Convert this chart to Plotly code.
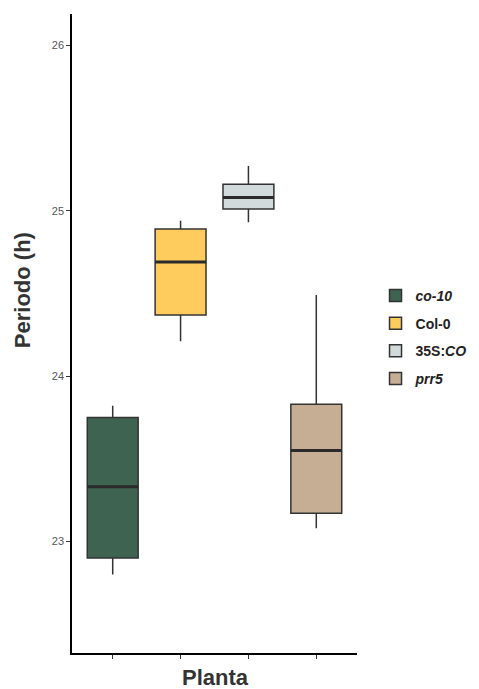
import plotly.graph_objects as go

# Box stats (hours)
plantas = ["co-10", "Col-0", "35S:CO", "prr5"]
etiquetas = ["<b><i>co-10</i></b>", "<b>Col-0</b>", "<b>35S:<i>CO</i></b>", "<b><i>prr5</i></b>"]
minimo = [22.80, 24.21, 24.93, 23.08]
q1 = [22.90, 24.37, 25.01, 23.17]
mediana = [23.33, 24.69, 25.08, 23.55]
q3 = [23.75, 24.89, 25.16, 23.83]
maximo = [23.82, 24.94, 25.27, 24.49]
colores = ["#3F6351", "#FECC5C", "#D3DADB", "#C6AE95"]

ancho = 0.75

fig = go.Figure()

for i, p in enumerate(plantas):
    fig.add_trace(go.Box(
        x=[i], q1=[q1[i]], median=[mediana[i]], q3=[q3[i]],
        lowerfence=[minimo[i]], upperfence=[maximo[i]],
        name=etiquetas[i], legendgroup=p, fillcolor=colores[i],
        line=dict(color="#333333", width=1.5),
        width=ancho, whiskerwidth=0, boxpoints=False,
        hoverinfo="skip"
    ))
    # thicker median line like ggplot
    fig.add_trace(go.Scatter(
        x=[i - ancho / 2, i + ancho / 2], y=[mediana[i], mediana[i]],
        mode="lines", line=dict(color="#2a2a2a", width=3),
        legendgroup=p, showlegend=False, hoverinfo="skip"
    ))

# page body has an 8px margin, so the figure is a bit smaller than the window
fig.update_layout(
    width=471, height=681,
    plot_bgcolor="white", paper_bgcolor="white",
    margin=dict(l=64, r=122, t=6, b=36, autoexpand=False),
    font=dict(family="Liberation Sans, Arial, sans-serif", color="#222222"),
    boxmode="overlay",
    legend=dict(
        x=1.065, xanchor="left",
        y=0.494, yanchor="middle",
        font=dict(size=14, color="#222222"),
        tracegroupgap=6.5, itemwidth=30,
        bgcolor="rgba(0,0,0,0)"
    ),
    showlegend=True
)

# axis titles as annotations (y title sits above the panel centre in the original)
fig.add_annotation(text="<b>Planta</b>", xref="paper", yref="paper", x=0.505, y=-0.038,
                   showarrow=False, font=dict(size=22, color="#333333"),
                   xanchor="center", yanchor="middle")
fig.add_annotation(text="<b>Periodo (h)</b>", xref="paper", yref="paper", x=-0.175, y=0.568,
                   showarrow=False, textangle=-90, font=dict(size=22, color="#333333"),
                   xanchor="center", yanchor="middle")

fig.update_xaxes(
    range=[-0.6, 3.6], tickvals=[0, 1, 2, 3], ticktext=["", "", "", ""],
    showline=True, linecolor="black", linewidth=1.5,
    ticks="outside", ticklen=4, tickcolor="#333333",
    showgrid=False, zeroline=False, automargin=False
)

fig.update_yaxes(
    range=[22.325, 26.19], tickvals=[23, 24, 25, 26],
    showline=True, linecolor="black", linewidth=1.5,
    ticks="outside", ticklen=4, tickcolor="#333333",
    tickfont=dict(size=11, color="#555555"),
    showgrid=False, zeroline=False, automargin=False
)

fig.write_html("out.html")
